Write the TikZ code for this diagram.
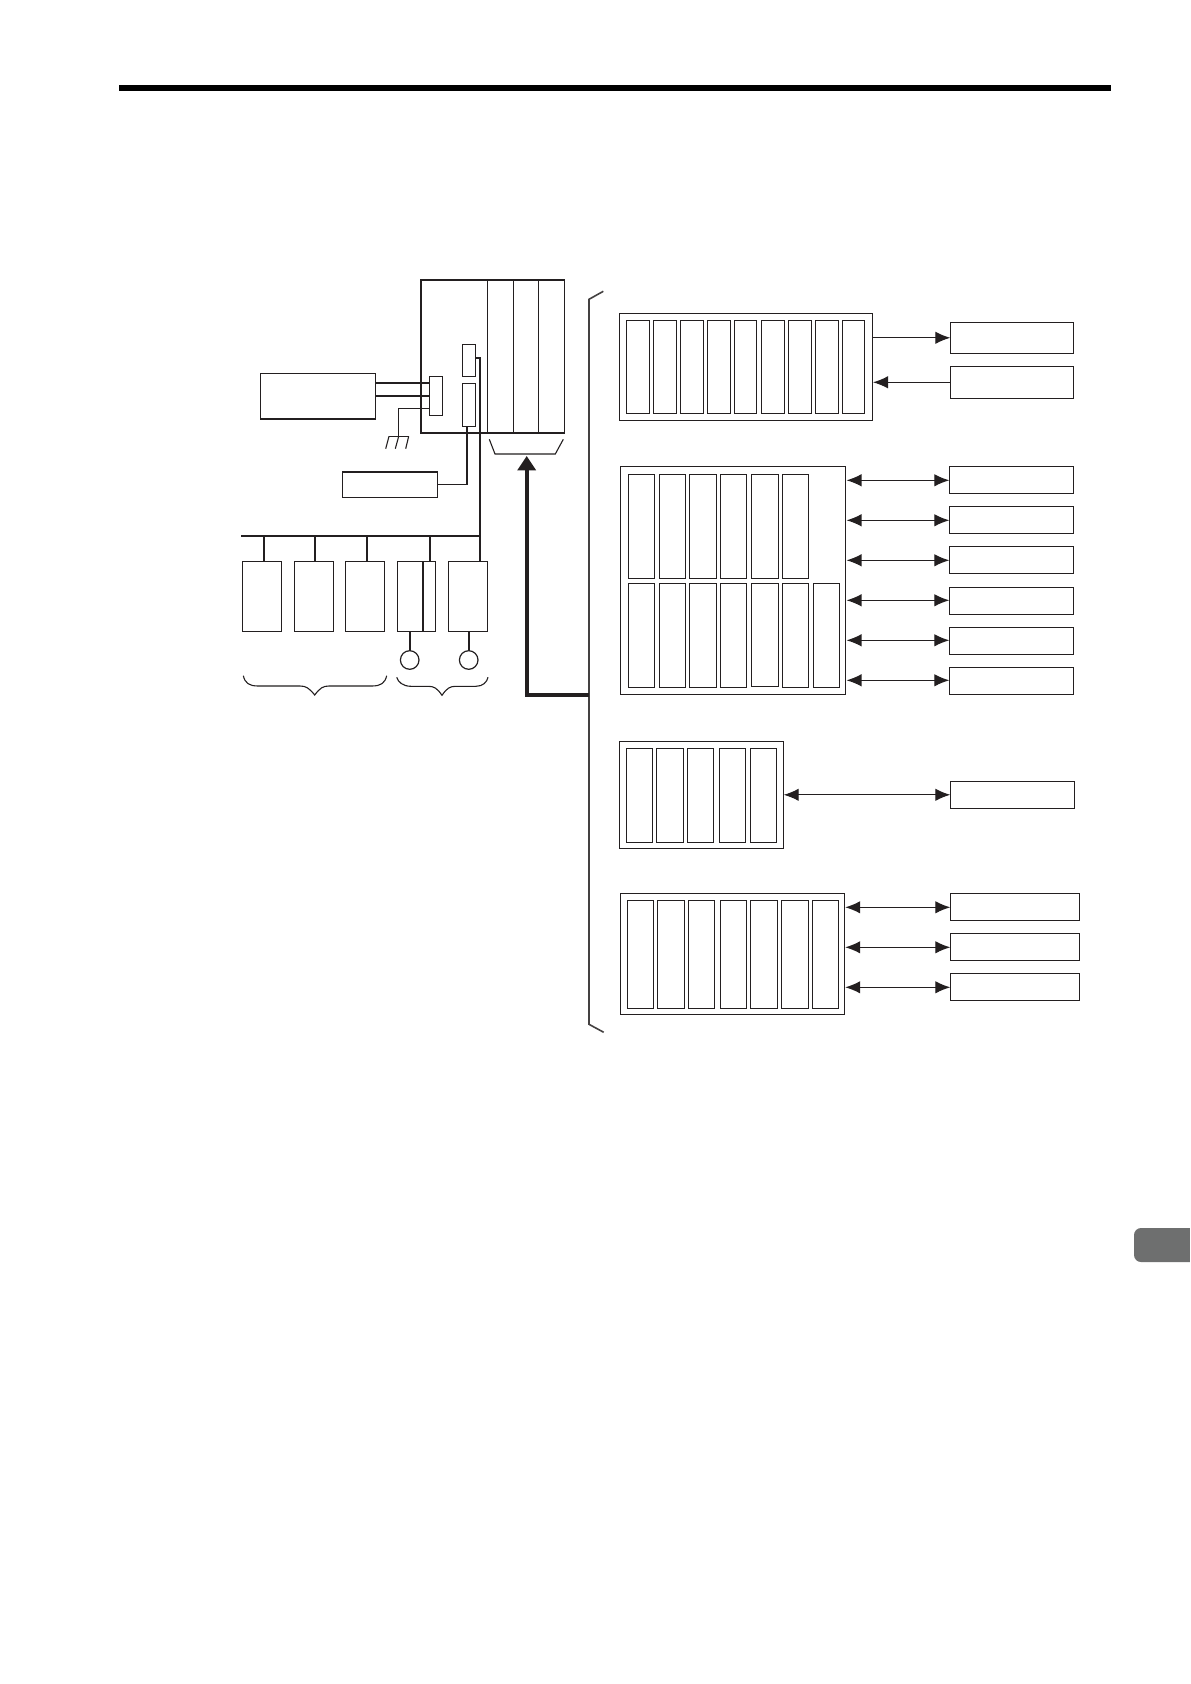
\documentclass[tikz,border=0pt]{standalone}
\usetikzlibrary{arrows.meta}
\definecolor{ink}{HTML}{231F20}
\definecolor{tabgrey}{HTML}{6E6F6F}
\tikzset{
  box/.style={draw=ink,line width=0.6pt,inner sep=0pt,outer sep=0pt,fill=white},
  boxheavy/.style={box,line width=0.8pt},
  wire/.style={draw=ink,line width=0.9pt},
  thinwire/.style={draw=ink,line width=0.55pt},
  link/.style={draw=ink,line width=0.55pt,-{Latex[length=7.5pt,width=6.2pt]}},
  duplex/.style={draw=ink,line width=0.55pt,{Latex[length=7.5pt,width=6.2pt]}-{Latex[length=7.5pt,width=6.2pt]}},
  trunk/.style={draw=ink,line width=1.9pt,-{Triangle[length=7.2pt,width=9pt]}},
  rail/.style={draw=ink!85,line width=0.8pt},
}
% \bx[style]{name}{x1}{y1}{x2}{y2}: a box given by its corners in reference pixels
\newcommand\bx[6][box]{\node[#1,minimum width={(#5-#3)*0.5pt},minimum height={(#6-#4)*0.5pt}] (#2) at ({(#3+#5)/2},{(#4+#6)/2}) {};}
\begin{document}
\begin{tikzpicture}[x=0.5pt,y=-0.5pt]
\useasboundingbox (0,0) rectangle (1190,1684);
\fill[white] (0,0) rectangle (1190,1684);
% page furniture
\fill[black] (119,85) rectangle (1111,91);
\fill[tabgrey,rounded corners=3.5pt] (1134,1228) rectangle (1200,1262);
\fill[white] (1190,1220) rectangle (1200,1270);

% controller
\bx[boxheavy]{cpu}{420.7}{280.3}{564.3}{433.3}
\draw[thinwire] (487.7,280.3) -- (487.7,433.3);
\draw[thinwire] (513.7,280.3) -- (513.7,433.3);
\draw[thinwire] (538.7,280.3) -- (538.7,433.3);
\draw[wire] (487.7,433.6) -- (538.7,433.6);
\draw[thinwire] (489.3,439.3) -- (495,454) -- (555.3,454) -- (563.3,439.3);

% power supply and terminals
\bx[boxheavy]{psu}{260.3}{373.7}{375.3}{419.3}
\coordinate (p1) at (375.3,383);
\coordinate (p2) at (375.3,396);
\coordinate (gnd) at (398.7,436.3);
\draw[wire] (p1) -- (429.3,383);
\draw[wire] (p2) -- (429.3,396);
\bx{term}{429.3}{376.3}{442.7}{415.7}
\draw[thinwire] (term.west |- 0,408.3) -| (gnd);
\draw[thinwire] (389,436.3) -- (408.7,436.3);
\draw[thinwire] (389,436.3) -- (385.7,448.7);
\draw[thinwire] (gnd) -- (395.3,448.7);
\draw[thinwire] (408.7,436.3) -- (405.7,448.7);
\bx{conA}{462.3}{344.3}{475.7}{376.7}
\bx{conB}{462.3}{383.3}{475.7}{426.7}

% panel
\bx[boxheavy]{panel}{342.3}{471.7}{437.3}{497.3}
\draw[wire] (panel.east) -| (conB.south -| 467,0);

% network bus
\coordinate (busL) at (241,536);
\coordinate (busR) at (479.7,536);
\bx{svA}{242.7}{561.3}{281.7}{631.3}
\bx{svB}{294.3}{561.3}{333.3}{631.3}
\bx{svC}{345.7}{561.3}{384.7}{631.3}
\bx{svD}{397.3}{561.3}{435.7}{631.3}
\bx{svE}{448.7}{561.3}{487.7}{631.3}
\draw[wire] (423.3,561.3) -- (423.3,631.3);
\draw[wire] (busL) -- (busR);
\draw[wire] (conA.east |- 0,357.7) -| (svE.north -| busR);
\draw[wire] (264,536) -- (264,561.3);
\draw[wire] (315,536) -- (315,561.3);
\draw[wire] (367,536) -- (367,561.3);
\draw[wire] (430,536) -- (430,561.3);
% motors
\node[box,circle,minimum size=9.3pt] (mA) at (409.7,660) {};
\node[box,circle,minimum size=9.3pt] (mB) at (468.7,660) {};
\draw[wire] (mA.north) -- (mA.north |- svD.south);
\draw[wire] (mB.north) -- (mB.north |- svE.south);
% braces
\draw[thinwire] (243.3,675.7) .. controls (245,683) and (249,686) .. (258,686) -- (300,686) .. controls (306,686) and (309,688) .. (314.7,695) .. controls (320,688) and (323,686) .. (329,686) -- (372,686) .. controls (381,686) and (385,683) .. (386.7,675.7);
\draw[thinwire] (396.7,677.3) .. controls (398,682) and (403,686.3) .. (411,686.3) -- (428,686.3) .. controls (434,686.3) and (437,688) .. (442,695.3) .. controls (447,688) and (450,686.3) .. (456,686.3) -- (476,686.3) .. controls (483,686.3) and (487,682) .. (488,677.3);

% I/O bracket
\coordinate (bT) at (603.3,291.3);
\coordinate (bTc) at (589,299.3);
\coordinate (bB) at (603.7,1032.3);
\coordinate (bBc) at (589,1024.3);
\draw[rail] (bT) -- (bTc) -- (bBc) -- (bB);
\coordinate (tap) at (589,695);
\coordinate (up) at (526.7,456);
\draw[trunk] (tap) -| (up);

% rack 1
\bx{rackA}{619.3}{313.3}{872.7}{420.3}
\foreach \n/\a/\b in {1/626.3/649.7,2/653.3/676.7,3/680.3/703.7,4/707.3/730.7,5/734.3/756.7,6/761.3/784.7,7/788.3/811.7,8/815.3/838.7,9/842.3/864.7}
  {\bx{a\n}{\a}{320.3}{\b}{413.3}}
\bx{outA}{950.3}{322.3}{1073.7}{353.3}
\bx{inA}{950.3}{366.3}{1073.7}{398.3}
\draw[link] (rackA.east |- outA.west) -- (outA.west);
\coordinate (inTip) at (873,382.3);
\draw[link] (inA.west) -- (inTip);

% rack 2
\bx{rackB}{620.3}{466.3}{845.7}{694.7}
\foreach \n/\a/\b in {1/628.3/654.7,2/659.3/685.7,3/689.3/716.7,4/720.3/746.7,5/751.3/778.7,6/782.3/808.7}
  {\bx{bt\n}{\a}{474.3}{\b}{578.3}}
\foreach \n/\a/\b/\c in {1/628.3/654.7/687.3,2/659.3/685.7/687.3,3/689.3/716.7/687.3,4/720.3/746.7/687.3,5/751.3/778.7/686.3,6/782.3/808.7/687.3,7/813.3/839.7/687.3}
  {\bx{bb\n}{\a}{583.3}{\b}{\c}}
\foreach \n/\a/\b/\y in {1/466.3/493.3/480.3,2/506.3/533.3/520.3,3/546.3/573.3/560.3,4/587.3/614.3/600.3,5/627.3/654.3/640.3,6/667.3/694.3/680.3}{
  \bx{outB\n}{949.3}{\a}{1073.7}{\b}
  \draw[duplex] (846.5,\y) -- (outB\n.west |- 0,\y);
}

% rack 3
\bx{rackC}{619.3}{741.3}{783.7}{848.3}
\foreach \n/\a/\b in {1/626.3/652.7,2/656.3/683.7,3/687.3/713.7,4/719.3/745.7,5/750.3/776.7}
  {\bx{c\n}{\a}{748.3}{\b}{842.3}}
\bx{outC}{950.3}{781.3}{1074.7}{808.3}
\draw[duplex] (rackC.east |- outC.west) -- (outC.west);

% rack 4
\bx{rackD}{620.3}{893.3}{844.7}{1014.3}
\foreach \n/\a/\b in {1/627.3/653.7,2/657.3/684.7,3/688.3/714.7,4/720.3/746.7,5/750.3/777.7,6/781.3/808.7,7/812.3/838.7}
  {\bx{d\n}{\a}{900.3}{\b}{1008.3}}
\foreach \n/\a/\b/\y in {1/893.3/920.3/907.3,2/933.3/960.3/947.3,3/973.3/1000.3/987.3}{
  \bx{outD\n}{950.3}{\a}{1079.7}{\b}
  \draw[duplex] (845.2,\y) -- (outD\n.west |- 0,\y);
}
\end{tikzpicture}
\end{document}
